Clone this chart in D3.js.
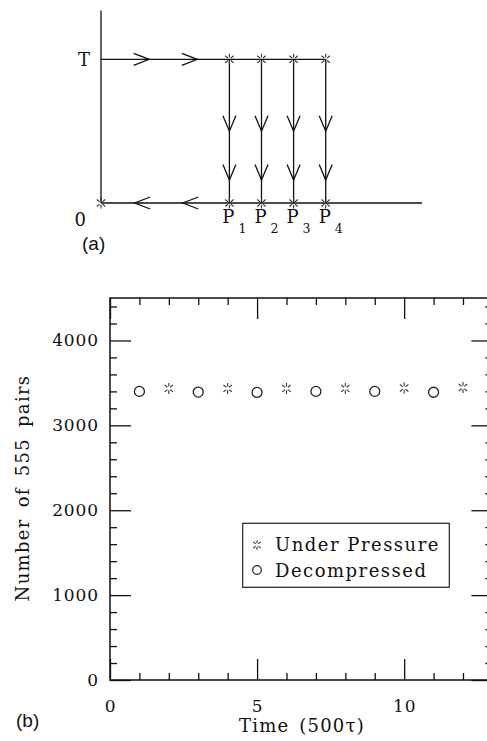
<!DOCTYPE html>
<html>
<head>
<meta charset="utf-8">
<script src="https://cdn.jsdelivr.net/npm/d3@7/dist/d3.min.js"></script>
<style>
  html, body { margin: 0; padding: 0; background: #fff; }
  svg { display: block; }
  .serif { font-family: "DejaVu Serif", serif; fill: #111; }
  .sans { font-family: "Liberation Sans", Arial, sans-serif; fill: #111; }
</style>
</head>
<body>
<svg id="fig" width="487" height="741"></svg>
<script>
// ---------- Panel (a): pressure / temperature protocol ----------
const stagePositions = [4, 5, 6, 7];          // P1..P4 along the horizontal axis
const stageSubscripts = ["1", "2", "3", "4"];
const levelT = 1, levelZero = 0;              // temperature levels
const heatArrowTips = [1.5, 3.0];             // arrows on the T line (pointing right)
const coolArrowTips = [1.05, 2.55];           // arrows on the 0 line (pointing left)
const dropArrowTips = [0.5, 0.16];            // arrows on each quench line (pointing down)
const protocolEnd = 10;

// ---------- Panel (b): number of 555 pairs ----------
const decompTimes = [1, 3, 5, 7, 9, 11];
const decompPairs = [3400, 3392, 3388, 3400, 3400, 3390];
const pressureTimes = [2, 4, 6, 8, 10, 12];
const pressurePairs = [3435, 3435, 3435, 3435, 3440, 3445];
const xMajorTicks = [0, 5, 10];
const xMinorTicks = [1, 2, 3, 4, 6, 7, 8, 9, 11, 12];
const yMajorTicks = [0, 1000, 2000, 3000, 4000];
const yMinorTicks = d3.range(200, 4500, 200).filter(v => v % 1000 !== 0);
const legendLabels = ["Under Pressure", "Decompressed"];

const svg = d3.select("#fig");
svg.append("rect").attr("width", 487).attr("height", 741).attr("fill", "#fff");

// asterisk-like marker: six short spokes around an empty centre
function starPath(cx, cy, r0, r1) {
  const angles = [90, 270, 40, 140, 220, 320].map(a => a * Math.PI / 180);
  return angles.map(a =>
    `M${cx + r0 * Math.cos(a)},${cy - r0 * Math.sin(a)}L${cx + r1 * Math.cos(a)},${cy - r1 * Math.sin(a)}`
  ).join("");
}
function drawStar(g, cx, cy, r1 = 5.5) {
  g.append("path").attr("d", starPath(cx, cy, 1.8, r1))
    .attr("stroke", "#333").attr("stroke-width", 1.1).attr("fill", "none");
}

// ---- panel (a)
const xa = d3.scaleLinear().domain([0, 10]).range([101, 422]);
const ya = d3.scaleLinear().domain([0, 1]).range([203, 59.3]);
const ga = svg.append("g");
const lineA = (x1, y1, x2, y2) => ga.append("line")
  .attr("x1", x1).attr("y1", y1).attr("x2", x2).attr("y2", y2)
  .attr("stroke", "#111").attr("stroke-width", 1.3);

// vertical axis
lineA(xa(0), ya(levelZero), xa(0), ya(1.34));
// T line and 0 line
lineA(xa(0), ya(levelT), xa(d3.max(stagePositions)), ya(levelT));
lineA(xa(0), ya(levelZero), xa(protocolEnd), ya(levelZero));
// quench lines
stagePositions.forEach(p => lineA(xa(p), ya(levelT), xa(p), ya(levelZero)));

// open arrowheads
const headLen = 15.5, headHalf = 6;
heatArrowTips.forEach(t => {
  const tx = xa(t), ty = ya(levelT);
  ga.append("path").attr("d", `M${tx - headLen},${ty - headHalf}L${tx},${ty}L${tx - headLen},${ty + headHalf}`)
    .attr("fill", "none").attr("stroke", "#111").attr("stroke-width", 1.3);
});
coolArrowTips.forEach(t => {
  const tx = xa(t), ty = ya(levelZero);
  ga.append("path").attr("d", `M${tx + headLen},${ty - headHalf}L${tx},${ty}L${tx + headLen},${ty + headHalf}`)
    .attr("fill", "none").attr("stroke", "#111").attr("stroke-width", 1.3);
});
stagePositions.forEach(p => dropArrowTips.forEach(t => {
  const tx = xa(p), ty = ya(t);
  ga.append("path").attr("d", `M${tx - 6.5},${ty - headLen}L${tx},${ty}L${tx + 6.5},${ty - headLen}`)
    .attr("fill", "none").attr("stroke", "#111").attr("stroke-width", 1.3);
}));

// markers at the corners
stagePositions.forEach(p => {
  drawStar(ga, xa(p), ya(levelT));
  drawStar(ga, xa(p), ya(levelZero));
});
drawStar(ga, xa(0), ya(levelZero));

// labels
ga.append("text").attr("class", "serif").attr("x", 90).attr("y", ya(levelT) + 6.5)
  .attr("text-anchor", "end").attr("font-size", 18).text("T");
ga.append("text").attr("class", "serif").attr("x", 86).attr("y", 226)
  .attr("text-anchor", "end").attr("font-size", 18).text("0");
stagePositions.forEach((p, i) => {
  ga.append("text").attr("class", "serif").attr("x", xa(p) - 1).attr("y", 223)
    .attr("text-anchor", "middle").attr("font-size", 18).text("P");
  ga.append("text").attr("class", "serif").attr("x", xa(p) + 9).attr("y", 233)
    .attr("font-size", 12.5).text(stageSubscripts[i]);
});
ga.append("text").attr("class", "sans").attr("x", 82).attr("y", 250)
  .attr("font-size", 19).text("(a)");

// ---- panel (b)
const x = d3.scaleLinear().domain([0, 13]).range([110, 492.4]);
const y = d3.scaleLinear().domain([0, 4500]).range([680, 298]);
const gb = svg.append("g");

function styleAxis(sel) {
  sel.select(".domain").remove();
  sel.selectAll(".tick line").attr("stroke", "#111").attr("stroke-width", 1.3);
  sel.selectAll(".tick text").attr("class", "serif").attr("fill", "#111")
    .attr("font-size", 17).attr("letter-spacing", 0.9)
    .style("font-family", '"DejaVu Serif", serif');
}

// left
gb.append("g").attr("transform", `translate(${x(0)},0)`)
  .call(d3.axisLeft(y).tickValues(yMajorTicks).tickSize(-21).tickPadding(11).tickFormat(d3.format("d")))
  .call(styleAxis);
gb.append("g").attr("transform", `translate(${x(0)},0)`)
  .call(d3.axisLeft(y).tickValues(yMinorTicks).tickSize(-7).tickFormat(""))
  .call(styleAxis);
// right
gb.append("g").attr("transform", `translate(${x(13)},0)`)
  .call(d3.axisRight(y).tickValues(yMajorTicks).tickSize(-21).tickFormat(""))
  .call(styleAxis);
gb.append("g").attr("transform", `translate(${x(13)},0)`)
  .call(d3.axisRight(y).tickValues(yMinorTicks).tickSize(-7).tickFormat(""))
  .call(styleAxis);
// bottom
gb.append("g").attr("transform", `translate(0,${y(0)})`)
  .call(d3.axisBottom(x).tickValues(xMajorTicks).tickSize(-21).tickPadding(20).tickFormat(d3.format("d")))
  .call(styleAxis);
gb.append("g").attr("transform", `translate(0,${y(0)})`)
  .call(d3.axisBottom(x).tickValues(xMinorTicks).tickSize(-7).tickFormat(""))
  .call(styleAxis);
// top
gb.append("g").attr("transform", `translate(0,${y(4500)})`)
  .call(d3.axisTop(x).tickValues(xMajorTicks).tickSize(-21).tickFormat(""))
  .call(styleAxis);
gb.append("g").attr("transform", `translate(0,${y(4500)})`)
  .call(d3.axisTop(x).tickValues(xMinorTicks).tickSize(-7).tickFormat(""))
  .call(styleAxis);

// frame
gb.append("rect").attr("x", x(0)).attr("y", y(4500))
  .attr("width", x(13) - x(0)).attr("height", y(0) - y(4500))
  .attr("fill", "none").attr("stroke", "#111").attr("stroke-width", 1.5);

// data
decompTimes.forEach((t, i) => {
  gb.append("circle").attr("cx", x(t)).attr("cy", y(decompPairs[i])).attr("r", 5)
    .attr("fill", "none").attr("stroke", "#222").attr("stroke-width", 1.3);
});
pressureTimes.forEach((t, i) => drawStar(gb, x(t), y(pressurePairs[i])));

// legend
gb.append("rect").attr("x", 242.7).attr("y", 523.3).attr("width", 206.6).attr("height", 64)
  .attr("fill", "#fff").attr("stroke", "#222").attr("stroke-width", 1.2);
drawStar(gb, 257, 545, 4.8);
gb.append("circle").attr("cx", 257).attr("cy", 570).attr("r", 4.3)
  .attr("fill", "none").attr("stroke", "#222").attr("stroke-width", 1.2);
gb.append("text").attr("class", "serif").attr("x", 275).attr("y", 551)
  .attr("font-size", 18).attr("letter-spacing", 1.5).text(legendLabels[0]);
gb.append("text").attr("class", "serif").attr("x", 275).attr("y", 576.5)
  .attr("font-size", 18).attr("letter-spacing", 1.5).text(legendLabels[1]);

// axis titles
gb.append("text").attr("class", "serif")
  .attr("transform", `translate(29,488) rotate(-90)`)
  .attr("text-anchor", "middle").attr("font-size", 18).attr("letter-spacing", 1.3)
  .attr("word-spacing", 4).text("Number of 555 pairs");
gb.append("text").attr("class", "serif").attr("x", 302).attr("y", 732)
  .attr("text-anchor", "middle").attr("font-size", 18).attr("letter-spacing", 1.2)
  .attr("word-spacing", 3).text("Time (500τ)");
gb.append("text").attr("class", "sans").attr("x", 16).attr("y", 727)
  .attr("font-size", 19).text("(b)");
</script>
</body>
</html>
